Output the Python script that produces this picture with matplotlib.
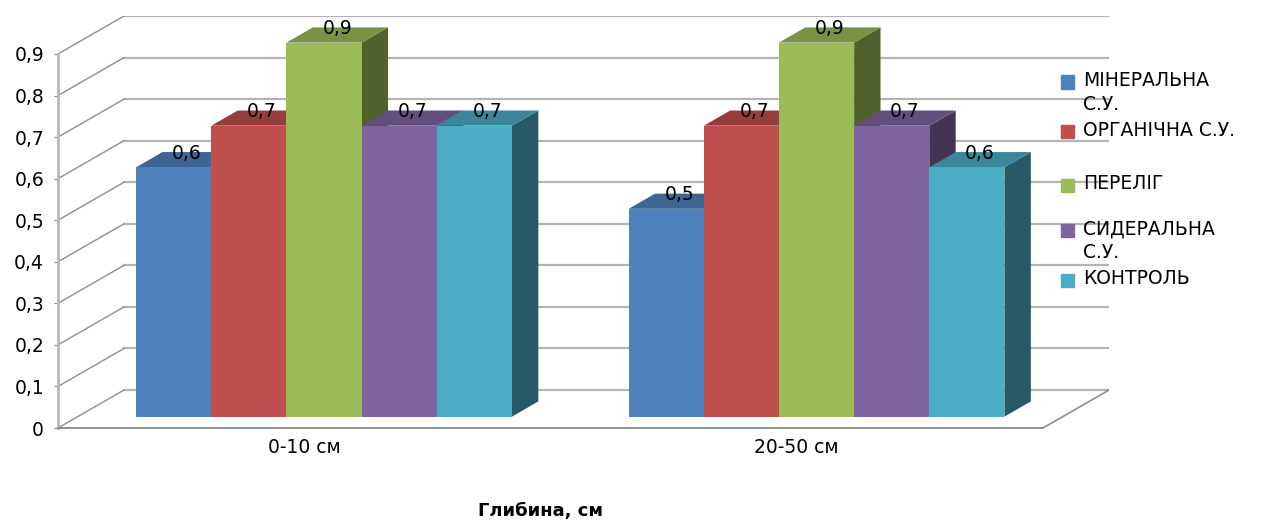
import matplotlib
matplotlib.use("Agg")
import matplotlib.pyplot as plt
from matplotlib.patches import Polygon, Rectangle

# data
categories = ["0-10 см", "20-50 см"]
series_names = ["МІНЕРАЛЬНА\nС.У.", "ОРГАНІЧНА С.У.", "ПЕРЕЛІГ", "СИДЕРАЛЬНА\nС.У.", "КОНТРОЛЬ"]
mineralna = [0.6, 0.5]
organichna = [0.7, 0.7]
perelig = [0.9, 0.9]
sideralna = [0.7, 0.7]
kontrol = [0.7, 0.6]
yticks = [0, 0.1, 0.2, 0.3, 0.4, 0.5, 0.6, 0.7, 0.8, 0.9]
ytick_labels = ["0", "0,1", "0,2", "0,3", "0,4", "0,5", "0,6", "0,7", "0,8", "0,9"]
colors = ["#4F81BD", "#C0504D", "#9BBB59", "#8064A2", "#4BACC6"]

values = [mineralna, organichna, perelig, sideralna, kontrol]

# 3d look: depth offset (x in category units, y in value units)
DX, DY = 0.134, 0.0914
D0, D1 = 0.3, 0.7      # bars sit between these depth fractions
group_w = 0.763
bw = group_w / len(values)
fs = 13.5


def shade(c, f):
    r, g, b = matplotlib.colors.to_rgb(c)
    return (r * f, g * f, b * f)


fig = plt.figure(figsize=(12.82, 5.21), dpi=100)
ax = fig.add_axes([58 / 1282, 1 - 428 / 521, 1051 / 1282, 412 / 521])
ax.set_xlim(-0.5, 1.5 + DX)
ax.set_ylim(0, 0.9 + DY)

# back wall gridlines + diagonals on the left wall
for v in yticks:
    ax.plot([-0.5 + DX, 1.5 + DX], [v + DY, v + DY], color="#B4B4B4", lw=1.6, zorder=1)
    ax.plot([-0.5, -0.5 + DX], [v, v + DY], color="#8E8E8E", lw=1.0, zorder=1)
# floor right edge
ax.plot([1.5, 1.5 + DX], [0, DY], color="#8E8E8E", lw=1.2, zorder=1)

# bars
for j, vals in enumerate(values):
    xs = [i - group_w / 2 + j * bw for i in range(len(categories))]
    z = 3 + j * 0.1
    bars = ax.bar([x + D0 * DX for x in xs], vals, width=bw, bottom=D0 * DY,
                  align="edge", color=colors[j], lw=0, zorder=z + 0.05)
    for x0, v in zip(xs, vals):
        x1 = x0 + bw
        top = [(x0 + D0 * DX, v + D0 * DY), (x1 + D0 * DX, v + D0 * DY),
               (x1 + D1 * DX, v + D1 * DY), (x0 + D1 * DX, v + D1 * DY)]
        side = [(x1 + D0 * DX, D0 * DY), (x1 + D1 * DX, D1 * DY),
                (x1 + D1 * DX, v + D1 * DY), (x1 + D0 * DX, v + D0 * DY)]
        ax.add_patch(Polygon(side, closed=True, color=shade(colors[j], 0.52), lw=0, zorder=z))
        ax.add_patch(Polygon(top, closed=True, color=shade(colors[j], 0.78), lw=0, zorder=z))
        dm = (D0 + D1) / 2
        ax.text((x0 + x1) / 2 + dm * DX, v + dm * DY + 0.016, f"{v:.1f}".replace(".", ","),
                ha="center", va="center", fontsize=fs, zorder=10)

# axes
for s in ["top", "right"]:
    ax.spines[s].set_visible(False)
ax.spines["left"].set_bounds(0, 0.9)
ax.spines["left"].set_color("#B8B8B8")
ax.spines["left"].set_linewidth(2)
ax.spines["bottom"].set_bounds(-0.5, 1.5)
ax.spines["bottom"].set_color("#8E8E8E")
ax.spines["bottom"].set_linewidth(1.4)
ax.set_yticks(yticks, ytick_labels)
ax.set_xticks([0, 1], categories)
ax.tick_params(axis="y", length=3, color="#8E8E8E", pad=7, labelsize=fs)
ax.tick_params(axis="x", length=0, pad=7, labelsize=fs)

# legend
leg_y = [82, 132, 185, 230, 280]
for j, name in enumerate(series_names):
    y = 1 - leg_y[j] / 521
    fig.patches.append(Rectangle((1061 / 1282, y - 6.5 / 521), 13 / 1282, 13 / 521,
                                 color=colors[j], transform=fig.transFigure))
    fig.text(1083 / 1282, y + 11 / 521, name, ha="left", va="top", fontsize=fs,
             linespacing=1.35)

fig.text(540 / 1282, 1 - 511 / 521, "Глибина, см", ha="center", va="center",
         fontsize=13, fontweight="bold")

fig.savefig("out.png", dpi=100)
